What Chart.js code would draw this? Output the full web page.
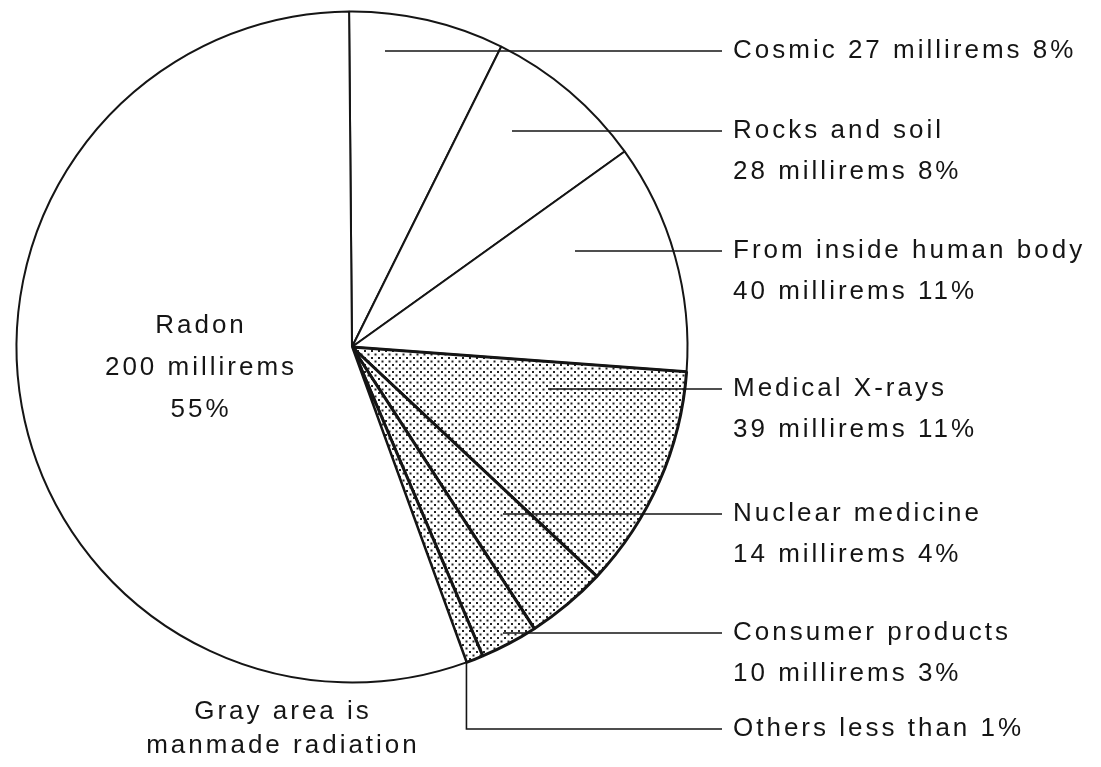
<!DOCTYPE html>
<html>
<head>
<meta charset="utf-8">
<script src="https://cdn.jsdelivr.net/npm/chart.js@4.4.1/dist/chart.umd.min.js"></script>
<style>
  html, body { margin: 0; padding: 0; background: #fff; }
  canvas { display: block; }
</style>
</head>
<body>
<canvas id="dosisChart" width="1101" height="767"></canvas>
<script>
// Fuentes de radiación (millirems por año), en sentido horario desde arriba
const fuentes = ['Cosmic', 'Rocks and soil', 'From inside human body', 'Medical X-rays',
                 'Nuclear medicine', 'Consumer products', 'Others', 'Radon'];
const millirems = [27, 28, 40, 39, 14, 10, 3, 200];
const porcentajes = ['8%', '8%', '11%', '11%', '4%', '3%', 'less than 1%', '55%'];
const artificial = [false, false, false, true, true, true, true, false]; // zona gris

// Posición de las etiquetas de la derecha (y de la línea guía, x donde empieza)
const guiaY = [51, 131, 251, 389, 514, 633, 729];
const guiaX = [385, 512, 575, 548, 503, 503, null];

// Textos de cada etiqueta
function lineasEtiqueta(i) {
    const nombre = fuentes[i], v = millirems[i];
    if (nombre === 'Cosmic') return [`${nombre} ${v} millirems ${porcentajes[i]}`];
    if (nombre === 'Others') return [`${nombre} ${porcentajes[i]}`];
    return [nombre, `${v} millirems ${porcentajes[i]}`];
}

// Trama de puntos para la zona gris
function crearTrama() {
    const c = document.createElement('canvas');
    c.width = 7; c.height = 7;
    const g = c.getContext('2d');
    g.fillStyle = '#fff';
    g.fillRect(0, 0, 7, 7);
    g.fillStyle = '#222';
    g.fillRect(0, 0, 2, 2);
    g.fillRect(3.5, 3.5, 2, 2);
    return g.createPattern(c, 'repeat');
}

const ctx = document.getElementById('dosisChart').getContext('2d');
const trama = crearTrama();
const FUENTE = '26px "Liberation Sans", Arial, sans-serif';

const etiquetasPlugin = {
    id: 'etiquetas',
    afterDraw(chart) {
        const c = chart.ctx;
        const arcos = chart.getDatasetMeta(0).data;
        const cx = arcos[0].x, cy = arcos[0].y, R = arcos[0].outerRadius;
        const finLinea = 722, xTexto = 733, salto = 41;

        c.save();
        c.font = FUENTE;
        c.letterSpacing = '3px';
        c.fillStyle = '#151515';
        c.textBaseline = 'middle';
        c.strokeStyle = '#151515';
        c.lineWidth = 1.6;

        for (let i = 0; i < 7; i++) {
            c.beginPath();
            if (guiaX[i] === null) {
                // línea en ángulo desde el borde del sector
                const ang = arcos[i].endAngle;
                const px = cx + R * Math.cos(ang);
                const py = cy + R * Math.sin(ang);
                c.moveTo(px, py);
                c.lineTo(px, guiaY[i]);
                c.lineTo(finLinea, guiaY[i]);
            } else {
                c.moveTo(guiaX[i], guiaY[i]);
                c.lineTo(finLinea, guiaY[i]);
            }
            c.stroke();
            lineasEtiqueta(i).forEach((t, k) => c.fillText(t, xTexto, guiaY[i] + k * salto));
        }

        // Etiqueta del radón dentro del círculo
        c.textAlign = 'center';
        ['Radon', `${millirems[7]} millirems`, porcentajes[7]].forEach((t, k) => c.fillText(t, 201, 326 + k * 42));

        // Nota al pie
        c.fillText('Gray area is', 283, 712);
        c.fillText('manmade radiation', 283, 746);
        c.restore();
    }
};

new Chart(ctx, {
    type: 'pie',
    data: {
        labels: fuentes,
        datasets: [{
            data: millirems,
            backgroundColor: artificial.map(g => g ? trama : '#fff'),
            borderColor: '#151515',
            borderWidth: artificial.map(g => g ? 3 : 2),
            hoverOffset: 0
        }]
    },
    options: {
        responsive: false,
        animation: false,
        events: [],
        rotation: -0.5,
        layout: {
            padding: { left: 15, top: 10, right: 412, bottom: 83 }
        },
        plugins: {
            legend: { display: false },
            tooltip: { enabled: false }
        }
    },
    plugins: [etiquetasPlugin]
});
</script>
</body>
</html>
